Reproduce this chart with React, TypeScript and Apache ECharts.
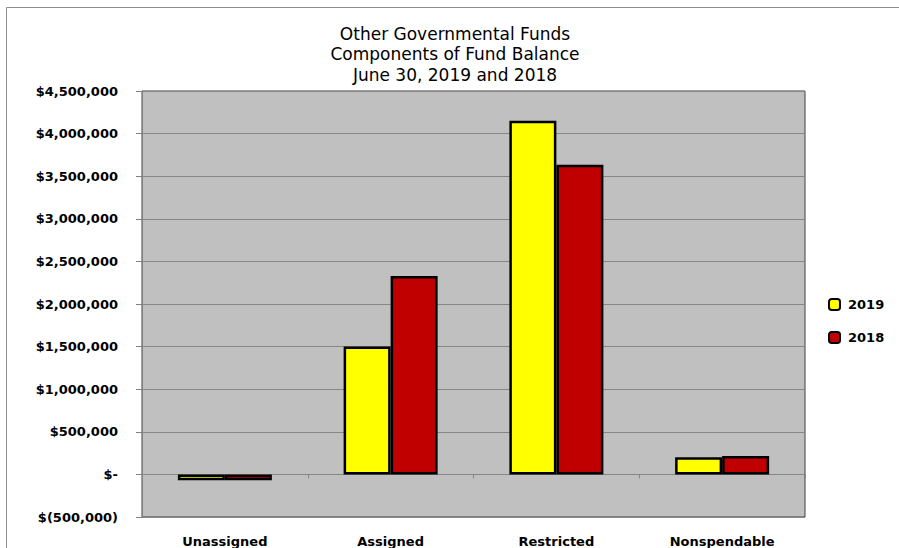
import React, { useEffect, useRef } from "react";
import * as echarts from "echarts";

const titleLines = ["Other Governmental Funds", "Components of Fund Balance", "June 30, 2019 and 2018"];
const categories = ["Unassigned", "Assigned", "Restricted", "Nonspendable"];
const seriesNames = ["2019", "2018"];
const values2019 = [-70000, 1500000, 4150000, 200000];
const values2018 = [-70000, 2330000, 3635000, 215000];
const yMin = -500000;
const yMax = 4500000;
const yInterval = 500000;

const fmt = (v: number) => {
  if (v === 0) return "$-";
  const s = Math.abs(v).toLocaleString("en-US");
  return v < 0 ? `$(${s})` : `$${s}`;
};

export default function App() {
  const ref = useRef<HTMLDivElement>(null);
  useEffect(() => {
    if (!ref.current) return;
    const chart = echarts.init(ref.current, undefined, { renderer: "svg" });
    const boldFont = { fontFamily: "DejaVu Sans", fontWeight: "bold" as const, fontSize: 13, color: "#000" };
    const titleY = [33.5, 54, 75];
    chart.setOption({
      animation: false,
      backgroundColor: "#fff",
      graphic: [
        {
          type: "rect",
          shape: { x: 6.5, y: 7.5, width: 2000, height: 2000 },
          style: { fill: "none", stroke: "#8c8c8c", lineWidth: 1 },
          silent: true,
          z: -1,
        },
        ...titleLines.map((t, i) => ({
          type: "text",
          x: 455,
          y: titleY[i],
          silent: true,
          style: {
            text: t,
            fill: "#000",
            font: "normal 17px 'DejaVu Sans'",
            textAlign: "center",
            textVerticalAlign: "middle",
          },
        })),
      ],
      legend: {
        orient: "vertical",
        left: 828,
        top: 298,
        padding: 0,
        itemWidth: 11,
        itemHeight: 11,
        itemGap: 20,
        textStyle: { ...boldFont, padding: [0, 0, 0, 3] },
        data: seriesNames,
      },
      grid: {
        left: 142,
        right: 94,
        top: 91,
        bottom: 31,
        show: true,
        backgroundColor: "#C0C0C0",
        borderColor: "#404040",
        borderWidth: 1,
      },
      xAxis: [
        {
          type: "category",
          data: categories,
          position: "bottom",
          axisLine: { show: false, onZero: false },
          axisTick: { show: false },
          axisLabel: { ...boldFont, margin: 18 },
        },
        {
          type: "category",
          data: categories,
          position: "bottom",
          axisLine: { show: true, onZero: true, lineStyle: { color: "#868686", width: 1 } },
          axisTick: { show: true, length: 4, inside: false, lineStyle: { color: "#868686" } },
          axisLabel: { show: false },
        },
      ],
      yAxis: {
        type: "value",
        min: yMin,
        max: yMax,
        interval: yInterval,
        axisLine: { show: true, lineStyle: { color: "#808080" } },
        axisTick: { show: true, length: 6, lineStyle: { color: "#808080" } },
        splitLine: { show: true, lineStyle: { color: "#868686", width: 1 } },
        axisLabel: { ...boldFont, margin: 24, formatter: fmt },
      },
      series: [
        {
          name: seriesNames[0],
          type: "bar",
          xAxisIndex: 0,
          data: values2019,
          barWidth: 47,
          barGap: "0%",
          itemStyle: { color: "#FFFF00", borderColor: "#000", borderWidth: 2.5 },
        },
        {
          name: seriesNames[1],
          type: "bar",
          xAxisIndex: 0,
          data: values2018,
          barWidth: 47,
          barGap: "0%",
          itemStyle: { color: "#C00000", borderColor: "#000", borderWidth: 2.5 },
        },
      ],
    });
    return () => chart.dispose();
  }, []);
  return (
    <div
      ref={ref}
      style={{ position: "fixed", left: 0, top: 0, width: 899, height: 548 }}
    />
  );
}
